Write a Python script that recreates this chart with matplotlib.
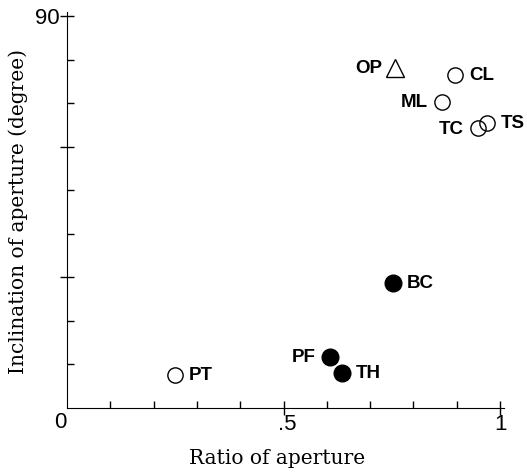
import numpy as np
import matplotlib.pyplot as plt

# values
names = ["PT", "PF", "TH", "BC", "OP", "CL", "ML", "TC", "TS"]
ratio = [0.249, 0.607, 0.635, 0.753, 0.757, 0.896, 0.866, 0.949, 0.970]
incl = [7.6, 11.7, 8.0, 28.7, 78.0, 76.4, 70.2, 64.2, 65.4]
kind = ["open", "filled", "filled", "filled", "tri", "open", "open", "open", "open"]
side = ["r", "l", "r", "r", "l", "r", "l", "l", "r"]

fig = plt.figure(figsize=(5.27, 4.74), dpi=100)
ax = fig.add_axes([67/527, 1 - 408/474, 433/527, 392/474])
ax.set_xlim(0, 1)
ax.set_ylim(0, 90)

for n, x, y, k, s in zip(names, ratio, incl, kind, side):
    off = 10
    if k == "tri":
        ax.plot(x, y, marker="^", ms=13, mfc="white", mec="black", mew=1.0, clip_on=False)
        off = 9
    elif k == "filled":
        ax.plot(x, y, marker="o", ms=12, mfc="black", mec="black", clip_on=False)
    else:
        ax.plot(x, y, marker="o", ms=11, mfc="none", mec="black", mew=1.0, clip_on=False)
    dx = off if s == "r" else -off
    ax.annotate(n, (x, y), xytext=(dx, -0.5), textcoords="offset points",
                ha="left" if s == "r" else "right", va="center",
                fontsize=13.5, fontweight="bold", family="Liberation Sans")

for sp in ["top", "right"]:
    ax.spines[sp].set_visible(False)
ax.spines["left"].set_bounds(0, 91)
ax.spines["bottom"].set_bounds(0, 1.01)

ax.set_xticks([0.5, 1.0])
ax.set_xticklabels([])
ax.set_xticks(np.arange(0.1, 1.0, 0.1), minor=True)
ax.set_yticks([30, 60, 90])
ax.set_yticklabels([])
ax.set_yticks([10, 20, 40, 50, 70, 80], minor=True)
ax.tick_params(which="major", direction="inout", length=10, width=1)
ax.tick_params(which="minor", direction="in", length=5, width=1)

lf = dict(fontsize=16, family="Liberation Sans")
fig.text(60/527, 1 - 422/474, "0", ha="center", va="center", **lf)
fig.text(287/527, 1 - 424/474, ".5", ha="center", va="center", **lf)
fig.text(501/527, 1 - 424/474, "1", ha="center", va="center", **lf)
fig.text(47/527, 1 - 18/474, "90", ha="center", va="center", **lf)

fig.text(277/527, 1 - 458/474, "Ratio of aperture", ha="center", va="center",
         fontsize=14.5, family="DejaVu Serif")
fig.text(18/527, 1 - 212/474, "Inclination of aperture (degree)", ha="center",
         va="center", rotation=90, fontsize=14.5, family="DejaVu Serif")

fig.savefig("out.png", dpi=100)
